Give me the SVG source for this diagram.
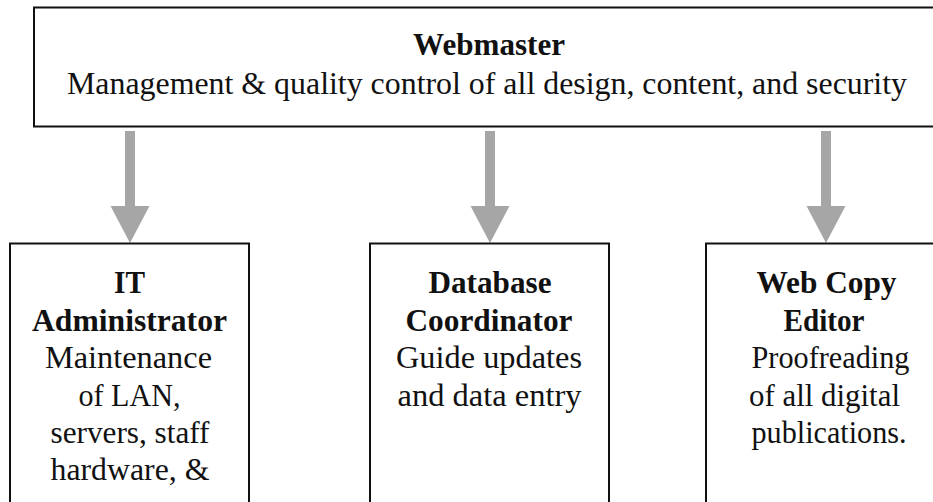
<svg xmlns="http://www.w3.org/2000/svg" width="933" height="502" viewBox="0 0 933 502">
<style>
.box{fill:#fff;stroke:#111;stroke-width:2}
.arrow{fill:#a6a6a6;stroke:none}
.t{font-size:31px;fill:#111;text-anchor:middle}
.b{font-weight:bold}
</style>
<rect width="933" height="502" fill="#fff"/>
<g id="connectors">
<polygon class="arrow" points="125,131 135,131 135,206 149.5,206 130,243 110.5,206 125,206"/>
<polygon class="arrow" points="485,131 495,131 495,206 509.5,206 490,243 470.5,206 485,206"/>
<polygon class="arrow" points="821,131 831,131 831,206 845.5,206 826,243 806.5,206 821,206"/>
</g>
<g font-family="'Liberation Serif', 'Times New Roman', serif">
<g id="webmaster">
<rect class="box" x="34" y="7.5" width="910" height="119"/>
<text class="t b" x="489" y="55" textLength="152" lengthAdjust="spacingAndGlyphs">Webmaster</text>
<text class="t" x="487" y="94" textLength="840" lengthAdjust="spacingAndGlyphs">Management &amp; quality control of all design, content, and security</text>
</g>
<g id="it-administrator">
<rect class="box" x="10" y="243.5" width="239" height="270"/>
<text class="t b" x="129.5" y="293" textLength="31" lengthAdjust="spacingAndGlyphs">IT</text>
<text class="t b" x="129.5" y="330.5" textLength="195" lengthAdjust="spacingAndGlyphs">Administrator</text>
<text class="t" x="128.5" y="368" textLength="167" lengthAdjust="spacingAndGlyphs">Maintenance</text>
<text class="t" x="129.5" y="405.5" textLength="102" lengthAdjust="spacingAndGlyphs">of LAN,</text>
<text class="t" x="130" y="443" textLength="159" lengthAdjust="spacingAndGlyphs">servers, staff</text>
<text class="t" x="130" y="480" textLength="159" lengthAdjust="spacingAndGlyphs">hardware, &amp;</text>
</g>
<g id="database-coordinator">
<rect class="box" x="370" y="243.5" width="239" height="270"/>
<text class="t b" x="490" y="293" textLength="123" lengthAdjust="spacingAndGlyphs">Database</text>
<text class="t b" x="489" y="330.5" textLength="167" lengthAdjust="spacingAndGlyphs">Coordinator</text>
<text class="t" x="489" y="368" textLength="186" lengthAdjust="spacingAndGlyphs">Guide updates</text>
<text class="t" x="489.5" y="405.5" textLength="184" lengthAdjust="spacingAndGlyphs">and data entry</text>
</g>
<g id="web-copy-editor">
<rect class="box" x="706" y="243.5" width="239" height="270"/>
<text class="t b" x="826.5" y="293" textLength="140" lengthAdjust="spacingAndGlyphs">Web Copy</text>
<text class="t b" x="824" y="330.5" textLength="81" lengthAdjust="spacingAndGlyphs">Editor</text>
<text class="t" x="830.5" y="368" textLength="158" lengthAdjust="spacingAndGlyphs">Proofreading</text>
<text class="t" x="824.5" y="405.5" textLength="151" lengthAdjust="spacingAndGlyphs">of all digital</text>
<text class="t" x="829" y="443" textLength="155" lengthAdjust="spacingAndGlyphs">publications.</text>
</g>
</g>
</svg>
